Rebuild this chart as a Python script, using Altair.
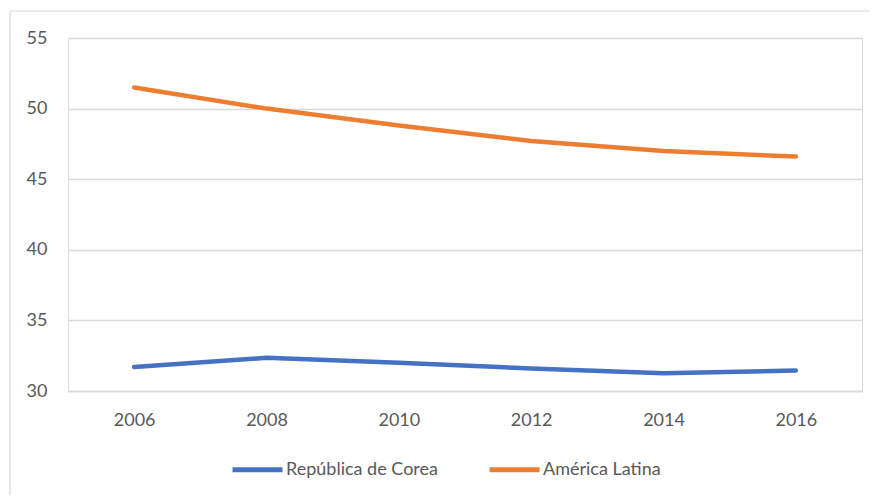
import altair as alt
import pandas as pd

years = ["2006", "2008", "2010", "2012", "2014", "2016"]
corea = [31.7, 32.35, 32.0, 31.6, 31.25, 31.45]
latam = [51.5, 50.0, 48.8, 47.7, 47.0, 46.6]
series = ["República de Corea", "América Latina"]
colors = ["#4472C4", "#ED7D31"]

rows = []
for y, v in zip(years, corea):
    rows.append({"year": y, "value": v, "serie": series[0]})
for y, v in zip(years, latam):
    rows.append({"year": y, "value": v, "serie": series[1]})
df = pd.DataFrame(rows)

FONT = "Lato"
FS = 18

one = pd.DataFrame({"a": [0]})
border_top = alt.Chart(one).mark_rule(stroke="#d9d9d9", strokeWidth=1.2).encode(
    x=alt.value(-58), x2=alt.value(830), y=alt.value(-27)
)
border_left = alt.Chart(one).mark_rule(stroke="#d9d9d9", strokeWidth=1.2).encode(
    x=alt.value(-58), y=alt.value(-27), y2=alt.value(480)
)

lines = alt.Chart(df).mark_line(strokeWidth=4.5, strokeCap="round", strokeJoin="round").encode(
    x=alt.X("year:N", sort=years, scale=alt.Scale(paddingInner=0, paddingOuter=0.5),
            axis=alt.Axis(title=None, labelAngle=0, ticks=False, domain=True,
                          domainColor="#d9d9d9", domainWidth=1.5,
                          labelFont=FONT, labelFontSize=FS, labelColor="#595959",
                          labelPadding=20, grid=False)),
    y=alt.Y("value:Q", scale=alt.Scale(domain=[30, 55], nice=False, zero=False),
            axis=alt.Axis(title=None, values=[30, 35, 40, 45, 50, 55], ticks=False, domain=False,
                          gridColor="#d9d9d9", gridWidth=1.5,
                          labelFont=FONT, labelFontSize=FS, labelColor="#595959",
                          labelPadding=21)),
    color=alt.Color("serie:N", sort=series,
                    scale=alt.Scale(domain=series, range=colors),
                    legend=alt.Legend(title=None, orient="none", direction="horizontal",
                                      legendX=162, legendY=404,
                                      symbolType="stroke", symbolSize=2500,
                                      symbolStrokeWidth=5, labelOffset=1,
                                      columnPadding=41,
                                      labelFont=FONT, labelFontSize=FS,
                                      labelColor="#595959")),
    detail="serie:N",
)

chart = alt.layer(border_top, border_left, lines).properties(
    width=794, height=353,
    autosize=alt.AutoSizeParams(type="none"),
    padding={"left": 60, "top": 30, "right": 8, "bottom": 104},
).configure_view(stroke=None).configure(background="white")

chart.save("out.html", embed_options={"renderer": "svg", "actions": False})
